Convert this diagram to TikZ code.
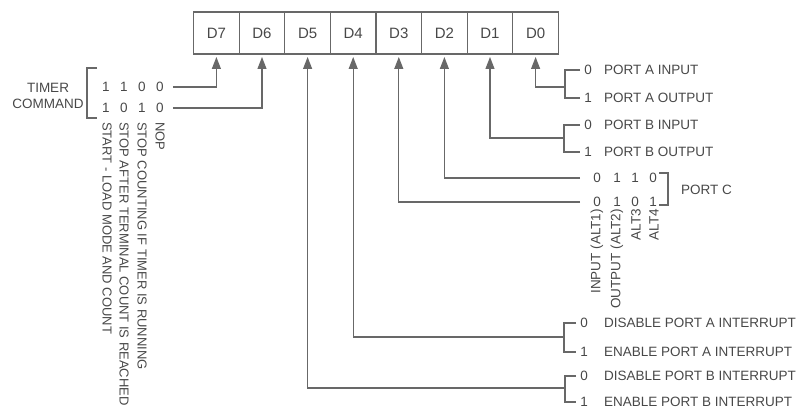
\documentclass[tikz,border=0pt]{standalone}
\usepackage{fontspec}
\setmainfont{Liberation Sans}
\usetikzlibrary{arrows.meta,positioning}
\definecolor{ink}{HTML}{484848}
\definecolor{wirec}{HTML}{686868}

\begin{document}
\begin{tikzpicture}[x=1pt, y=-1pt,
        cell/.style={shape=rectangle, draw=wirec, line width=1.2pt, minimum width=45.6pt, minimum height=42pt, inner sep=0pt, outer sep=0pt, text=ink, font=\fontsize{15}{17}\selectfont},
        txt/.style={text=ink, inner sep=1pt, font=\fontsize{13.5}{16}\selectfont},
        sidetxt/.style={txt, font=\fontsize{13}{15}\selectfont},
        wire/.style={draw=wirec, line width=1.2pt},
        feed/.style={wire, -{Triangle[width=9pt,length=12pt]}, shorten >=3pt}]
        \useasboundingbox (0, 0) rectangle (796, 414);
        % Register cells:
        \node[cell] (d7) at (216.4, 33) {D7};
        \node[cell, right=0pt of d7] (d6) {D6};
        \node[cell, right=0pt of d6] (d5) {D5};
        \node[cell, right=0pt of d5] (d4) {D4};
        \node[cell, right=0pt of d4] (d3) {D3};
        \node[cell, right=0pt of d3] (d2) {D2};
        \node[cell, right=0pt of d2] (d1) {D1};
        \node[cell, right=0pt of d1] (d0) {D0};
        % Timer command, bits D7 and D6:
        \node[txt, align=center] (tmr) at (48, 96) {TIMER\\COMMAND};
        \draw[wire] (97, 68) -- (87, 68) -- (87, 118) -- (97, 118);
        \node[txt] (ca1) at (106, 87) {1};
        \node[txt] (ca2) at (124, 87) {1};
        \node[txt] (ca3) at (142, 87) {0};
        \node[txt] (ca4) at (160, 87) {0};
        \node[txt] (cb1) at (106, 108) {1};
        \node[txt] (cb2) at (124, 108) {0};
        \node[txt] (cb3) at (142, 108) {1};
        \node[txt] (cb4) at (160, 108) {0};
        \node[sidetxt, rotate=-90, anchor=west] (tstart) at (107, 121) {START - LOAD MODE AND COUNT};
        \node[sidetxt, rotate=-90, anchor=west] (tterm) at (124, 121) {STOP AFTER TERMINAL COUNT IS REACHED};
        \node[sidetxt, rotate=-90, anchor=west] (tstop) at (142, 121) {STOP COUNTING IF TIMER IS RUNNING};
        \node[sidetxt, rotate=-90, anchor=west] (tnop) at (160, 121) {NOP};
        \draw[feed] ([xshift=8pt]ca4.east) -| (d7.south);
        \draw[feed] ([xshift=8pt]cb4.east) -| (d6.south);
        % Port A direction, bit D0:
        \draw[wire] (580, 70) -| (565, 98) -- (580, 98);
        \coordinate (pa) at (565, 87);
        \node[txt] (pa0) at (588, 70) {0};
        \node[txt, anchor=west] (pa0t) at (603, 70) {PORT A INPUT};
        \node[txt] (pa1) at (588, 98) {1};
        \node[txt, anchor=west] (pa1t) at (603, 98) {PORT A OUTPUT};
        \draw[feed] (pa) -| (d0.south);
        % Port B direction, bit D1:
        \draw[wire] (580, 125) -| (564, 152) -- (580, 152);
        \coordinate (pb) at (564, 138);
        \node[txt] (pb0) at (588, 125) {0};
        \node[txt, anchor=west] (pb0t) at (603, 125) {PORT B INPUT};
        \node[txt] (pb1) at (588, 152) {1};
        \node[txt, anchor=west] (pb1t) at (603, 152) {PORT B OUTPUT};
        \draw[feed] (pb) -| (d1.south);
        % Port C, bits D2 and D3:
        \node[txt] (pca1) at (597, 178) {0};
        \node[txt] (pca2) at (617, 178) {1};
        \node[txt] (pca3) at (635, 178) {1};
        \node[txt] (pca4) at (653, 178) {0};
        \node[txt] (pcb1) at (597, 202) {0};
        \node[txt] (pcb2) at (617, 202) {1};
        \node[txt] (pcb3) at (635, 202) {0};
        \node[txt] (pcb4) at (653, 202) {1};
        \draw[wire] (659, 173) -| (668, 205) -- (659, 205);
        \node[txt, anchor=west] (pc) at (680, 190) {PORT C};
        \node[txt, rotate=90, anchor=east] (alt1) at (597, 208) {INPUT (ALT1)};
        \node[txt, rotate=90, anchor=east] (alt2) at (617, 208) {OUTPUT (ALT2)};
        \node[txt, rotate=90, anchor=east] (alt3) at (636, 208) {ALT3};
        \node[txt, rotate=90, anchor=east] (alt4) at (654, 208) {ALT4};
        \draw[feed] ([xshift=-12pt]pca1.west) -| (d2.south);
        \draw[feed] ([xshift=-12pt]pcb1.west) -| (d3.south);
        % Interrupt enables, bits D4 and D5:
        \draw[wire] (576, 323) -| (564, 352) -- (576, 352);
        \coordinate (ia) at (564, 337);
        \node[txt] (ia0) at (584, 323) {0};
        \node[txt, anchor=west] (ia0t) at (603, 323) {DISABLE PORT A INTERRUPT};
        \node[txt] (ia1) at (584, 352) {1};
        \node[txt, anchor=west] (ia1t) at (603, 352) {ENABLE PORT A INTERRUPT};
        \draw[feed] (ia) -| (d4.south);
        \draw[wire] (576, 376) -| (565, 402) -- (576, 402);
        \coordinate (ib) at (565, 388);
        \node[txt] (ib0) at (584, 376) {0};
        \node[txt, anchor=west] (ib0t) at (603, 376) {DISABLE PORT B INTERRUPT};
        \node[txt] (ib1) at (584, 402) {1};
        \node[txt, anchor=west] (ib1t) at (603, 402) {ENABLE PORT B INTERRUPT};
        \draw[feed] (ib) -| (d5.south);
    \end{tikzpicture}
\end{document}
